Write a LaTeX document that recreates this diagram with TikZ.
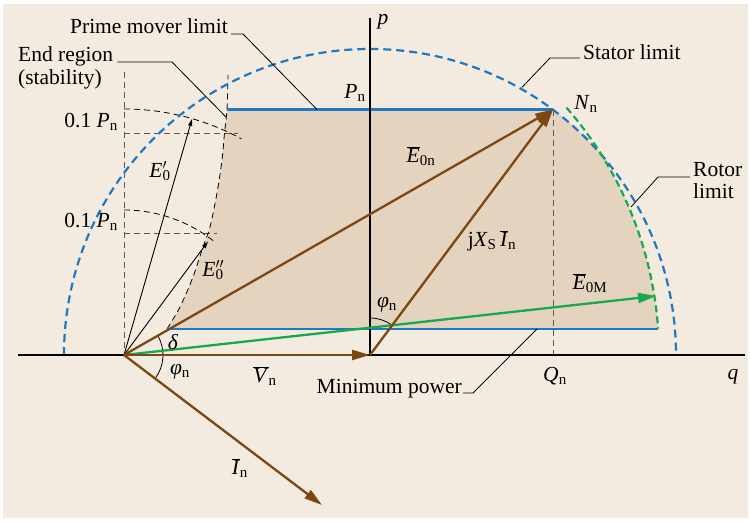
\documentclass[tikz,border=0pt]{standalone}
\usepackage{fontspec}
\setmainfont{Liberation Serif}
\usetikzlibrary{arrows.meta}
\definecolor{bgc}{HTML}{F3EBDF}
\definecolor{fillc}{HTML}{E4D3BE}
\definecolor{bluec}{HTML}{1F78C2}
\definecolor{greenc}{HTML}{18A94E}
\definecolor{brownc}{HTML}{7A4810}
\newcommand\ovl[1]{\ensuremath{\overline{\mbox{#1}}}}
\newcommand\supsubx[2]{\rlap{\textsuperscript{#1}}\textsubscript{#2}}
\begin{document}
\begin{tikzpicture}[x=1pt,y=1pt,
  every node/.style={inner sep=0pt, font=\fontsize{21.5}{24}\selectfont},
  axisline/.style={line width=1.1pt, black},
  brownarr/.style={line width=2.3pt, brownc, -{Triangle[length=18pt,width=10pt]}},
  greenarr/.style={line width=2.3pt, greenc, -{Triangle[length=18pt,width=10pt]}},
  bluelim/.style={line width=2.2pt, bluec},
  bluedash/.style={line width=2.2pt, bluec, dash pattern=on 8pt off 5pt},
  greendash/.style={line width=2.2pt, greenc, dash pattern=on 7pt off 4pt},
  helper/.style={line width=1pt, black!65, dash pattern=on 6pt off 4pt},
  thindash/.style={line width=0.8pt, black, dash pattern=on 6pt off 4pt},
  leader/.style={line width=0.8pt, black},
  thinarr/.style={line width=0.9pt, black, -{Triangle[length=7pt,width=4pt]}},
  anglearc/.style={line width=0.8pt, black},
]
\useasboundingbox (0,0) rectangle (750,-522);
\fill[bgc] (3,-4) rectangle (748,-518);

% key points
\coordinate (O) at (124,-355);
\coordinate (C) at (370,-355);
\coordinate (Nn) at (553,-109.5);
\coordinate (EM) at (656,-296);
\coordinate (In) at (322,-505);
\coordinate (PnL) at (227,-109.5);
\coordinate (MinL) at (167,-329);
\coordinate (MinR) at (658,-329);
\coordinate (Qn) at (553,-355);
\coordinate (E1) at (192,-119);
\coordinate (E2) at (208,-241.5);
\coordinate (AxL) at (18,-355);
\coordinate (AxR) at (745,-355);
\coordinate (AxT) at (370,-18);

% shaded operating region
\fill[fillc] (PnL) -- (Nn) arc[start angle=53.25, end angle=39.9, radius=306]
  -- (604.1,-159.3) arc[start angle=31.3, end angle=4, radius=377]
  -- (MinL) -- plot[smooth] coordinates {(167,-329) (180,-307) (193,-277) (203,-247) (210,-227) (217,-193) (222,-160) (224.5,-133) (227,-109.5)} -- cycle;

% helper dashed lines
\draw[helper] (124,-72) -- (O);
\draw[helper] (124,-133) -- (238,-133);
\draw[helper] (124,-233.5) -- (217,-233.5);
\draw[helper] (Nn) -- (Qn);
\draw[thindash] (124,-109) arc[start angle=90, end angle=61.5, radius=246];
\draw[thindash] (124,-210) arc[start angle=90, end angle=51, radius=145];
\draw[thindash] plot[smooth] coordinates {(167,-329) (180,-307) (193,-277) (203,-247) (210,-227) (217,-193) (222,-160) (224.5,-133) (227,-109.5) (228,-75)};

% limits
\draw[bluelim] (PnL) -- (Nn);
\draw[bluelim] (MinL) -- (MinR);
\draw[bluedash] (C) ++(180:306) arc[start angle=180, end angle=0, radius=306];
\draw[greendash] (282,-355) ++(41:377) arc[start angle=41, end angle=4, radius=377];

% axes
\draw[axisline] (AxL) -- (AxR);
\draw[axisline] (C) -- (AxT);

% thin vectors
\draw[thinarr] (O) -- (E1);
\draw[thinarr] (O) -- (E2);

% angle arcs
\draw[anglearc] (O) ++(29.7:39) arc[start angle=29.7, end angle=-37.1, radius=39];
\draw[anglearc] (C) ++(90:37) arc[start angle=90, end angle=53.2, radius=37];

% main vectors
\draw[greenarr] (O) -- (EM);
\draw[brownarr] (O) -- (Nn);
\draw[brownarr] (C) -- (Nn);
\draw[brownarr] (O) -- (C);
\draw[brownarr] (O) -- (In);

% labels
\node (lp) at (383,-22) {\textit{p}};
\node (lq) at (733,-377) {\textit{q}};
\node (lPn) at (355,-93) {\textit{P}\textsubscript{n}};
\node (lNn) at (586,-104) {\textit{N}\textsubscript{n}};
\node (lE0n) at (421,-156) {\ovl{\textit{E}}\textsubscript{0n}};
\node (lE1) at (160,-171) {\textit{E}\supsubx{$\prime$}{0}};
\node (lE2) at (213,-270) {\textit{E}\supsubx{$\prime\prime$}{0}};
\node[anchor=east] (lp1) at (118,-122) {0.1 \textit{P}\textsubscript{n}};
\node[anchor=east] (lp2) at (118,-222) {0.1 \textit{P}\textsubscript{n}};
\node (ldelta) at (173,-342) {\textit{δ}};
\node (lphi1) at (180,-372) {\textit{φ}\textsubscript{n}};
\node (lphi2) at (387,-305) {\textit{φ}\textsubscript{n}};
\node (lVn) at (265,-376) {\ovl{\textit{V}}\textsubscript{n}};
\node (lIn) at (240,-468) {\ovl{\textit{I}}\textsubscript{n}};
\node (ljx) at (492,-241) {j\textit{X}\textsubscript{S}\,\ovl{\textit{I}}\textsubscript{n}};
\node (lE0M) at (590,-283) {\ovl{\textit{E}}\textsubscript{0M}};
\node (lQn) at (555,-376) {\textit{Q}\textsubscript{n}};

% annotated texts with leaders
\node[anchor=base east] (tpm) at (228,-34) {Prime mover limit};
\coordinate (pmA) at (243,-34);
\coordinate (pmB) at (317,-109.5);
\draw[leader] ([xshift=3pt]tpm.base east) -- (pmA) -- (pmB);

\node[anchor=base west] (ter1) at (18,-61) {End region};
\node[anchor=base west] (ter2) at (18,-84) {(stability)};
\coordinate (erA) at (172,-62);
\coordinate (erB) at (226,-117);
\draw[leader] ([xshift=4pt,yshift=-1pt]ter1.base east) -- (erA) -- (erB);

\node[anchor=base west] (tst) at (583,-59) {Stator limit};
\coordinate (stA) at (550,-58);
\coordinate (stB) at (522,-87.3);
\draw[leader] ([xshift=-3pt,yshift=1pt]tst.base west) -- (stA) -- (stB);

\node[anchor=base west] (tro1) at (693,-176) {Rotor};
\node[anchor=base west] (tro2) at (693,-198) {limit};
\coordinate (roA) at (658,-177);
\coordinate (roB) at (631,-207);
\draw[leader] ([xshift=-3pt,yshift=-1pt]tro1.base west) -- (roA) -- (roB);

\node[anchor=base east] (tmp) at (462,-393) {Minimum power};
\coordinate (mpA) at (473,-393);
\coordinate (mpB) at (537,-329);
\draw[leader] ([xshift=1pt]tmp.base east) -- (mpA) -- (mpB);
\end{tikzpicture}
\end{document}
